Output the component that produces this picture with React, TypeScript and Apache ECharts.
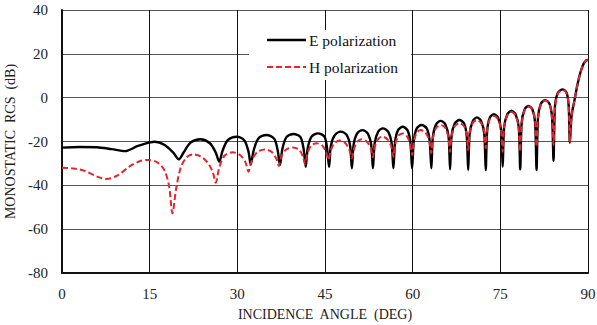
import React, { useEffect, useRef } from "react";
import * as echarts from "echarts";

const xTicks = [0, 15, 30, 45, 60, 75, 90];
const yTicks = [-80, -60, -40, -20, 0, 20, 40];

const ePolarization: [number, number][] = [
  [0, -22.8], [3, -22.5], [6, -22.6], [8.5, -23.5], [10.8, -24.4], [13, -22], [15.9, -20.1], [17.5, -21.5], [19, -25], [20.0, -28.1],
  [20.8, -25], [22, -20.5], [23.7, -19.0], [25.3, -20.8], [26.3, -25], [26.9, -29.2],
  [27.5, -24], [28.4, -19.3], [29.9, -17.8], [31.2, -19.5], [31.9, -24.5], [32.3, -30.4],
  [32.8, -24], [33.6, -18.6], [35.0, -17.0], [36.3, -18.7], [36.9, -24], [37.3, -30.7],
  [37.7, -23.5], [38.4, -18], [39.6, -16.6], [40.8, -18], [41.35, -23.5], [41.7, -31.5],
  [42.05, -23], [42.7, -17.8], [43.8, -16.3], [44.9, -17.8], [45.35, -23], [45.7, -31.5],
  [46.0, -22], [46.7, -17], [47.7, -15.5], [48.7, -17], [49.3, -22], [49.6, -32.2],
  [49.9, -21.5], [50.5, -16.3], [51.4, -14.8], [52.3, -16.3], [52.9, -21.5], [53.2, -32.2],
  [53.5, -20.8], [54.1, -15.5], [54.9, -14.0], [55.8, -15.5], [56.4, -20.8], [56.7, -32.2],
  [57.0, -20], [57.5, -14.8], [58.3, -13.3], [59.1, -14.8], [59.6, -20], [59.9, -32.2],
  [60.2, -19.5], [60.7, -14], [61.5, -12.5], [62.4, -14], [62.9, -19.5], [63.2, -32.2],
  [63.45, -18], [64.0, -12.2], [64.8, -10.6], [65.6, -12.2], [66.15, -18], [66.4, -32.7],
  [66.65, -17.5], [67.2, -11.8], [68.0, -10.2], [68.8, -11.8], [69.25, -17.5], [69.5, -33],
  [69.75, -16.5], [70.3, -10.6], [71.0, -9.0], [71.7, -10.6], [72.25, -16.5], [72.5, -33],
  [72.75, -15], [73.2, -9.1], [73.9, -7.5], [74.6, -9.1], [75.15, -15], [75.4, -31.5],
  [75.65, -13.5], [76.2, -7.6], [76.9, -6.0], [77.6, -7.6], [78.15, -13.5], [78.4, -32.7],
  [78.65, -11.5], [79.15, -5.4], [79.8, -3.8], [80.5, -5.4], [80.95, -11.5], [81.2, -33],
  [81.45, -9], [81.95, -2.7], [82.7, -1.1], [83.4, -2.7], [83.85, -9], [84.1, -28.8],
  [84.35, -4], [84.85, 2.2], [85.7, 3.8], [86.35, 2.2], [86.7, -4], [86.9, -20.5],
  [87.2, -8], [87.7, -1], [88.2, 6], [88.7, 11.5], [89.2, 15.2], [89.7, 17], [90, 17.2],
];

const hPolarization: [number, number][] = [
  [0, -32], [2, -32.3], [4, -33.5], [6, -36], [7.6, -37.1], [9.5, -35.5], [11.5, -31.5], [13.3, -29], [14.8, -28.4], [16.3, -29.5],
  [17.5, -33], [18.3, -40], [18.9, -52.8], [19.5, -42], [20.3, -32], [21.3, -27.3], [22.4, -25.9], [23.7, -26.8], [24.9, -29.5], [25.8, -34], [26.3, -38.8],
  [26.9, -32], [27.8, -26.5], [29.2, -24.9], [30.5, -26.3], [31.4, -29.5], [31.9, -33.8],
  [32.5, -28.5], [33.4, -24.8], [34.7, -23.6], [35.9, -24.8], [36.7, -28], [37.1, -31.2],
  [37.5, -27], [38.3, -23.8], [39.5, -22.7], [40.6, -23.8], [41.2, -26.8], [41.6, -30.3],
  [42.0, -25.5], [42.6, -22], [43.6, -20.8], [44.6, -22], [45.2, -25], [45.6, -28.4],
  [46.0, -24], [46.6, -20.8], [47.5, -19.6], [48.5, -20.8], [49.2, -24], [49.6, -27.7],
  [49.95, -23.5], [50.5, -20.2], [51.3, -19.0], [52.2, -20.2], [52.85, -23.2], [53.2, -27.2],
  [53.5, -22.5], [54.05, -19], [54.8, -17.8], [55.7, -19], [56.35, -22.3], [56.7, -27],
  [57.0, -21.5], [57.5, -17.5], [58.2, -16.3], [59.0, -17.5], [59.55, -21], [59.9, -26.2],
  [60.2, -20], [60.7, -16], [61.4, -14.8], [62.2, -16], [62.85, -19.5], [63.2, -25.4],
  [63.45, -18.5], [64.0, -13.8], [64.8, -12.5], [65.6, -13.8], [66.1, -18], [66.4, -24.7],
  [66.65, -17.5], [67.2, -13], [68.0, -11.7], [68.8, -13], [69.25, -17], [69.5, -23.9],
  [69.75, -16], [70.3, -11.5], [71.0, -10.2], [71.7, -11.5], [72.25, -15.5], [72.5, -23.1],
  [72.75, -14.5], [73.2, -9.8], [73.9, -8.4], [74.6, -9.8], [75.1, -14.5], [75.4, -24.7],
  [75.65, -13.5], [76.2, -8], [76.9, -6.5], [77.6, -8], [78.1, -13], [78.4, -24.7],
  [78.65, -11.5], [79.15, -5.6], [79.8, -4.0], [80.5, -5.6], [80.95, -11], [81.2, -22.4],
  [81.45, -9], [81.95, -2.9], [82.7, -1.3], [83.4, -2.9], [83.85, -9], [84.1, -21.6],
  [84.35, -4.5], [84.85, 1.9], [85.7, 3.5], [86.35, 1.9], [86.7, -4], [86.9, -20.5],
  [87.2, -8], [87.7, -1], [88.2, 6], [88.7, 11.5], [89.2, 15.2], [89.7, 17], [90, 17.2],
];

const seriesNames = ["E polarization", "H polarization"];
const xTitle = "INCIDENCE  ANGLE  (DEG)";
const yTitle = "MONOSTATIC  RCS  (dB)";

const FONT = "'Liberation Serif', 'DejaVu Serif', serif";
const RED = "#e8232b";

export default function App() {
  const ref = useRef<HTMLDivElement>(null);
  useEffect(() => {
    document.body.style.margin = "0";
    if (!ref.current) return;
    const chart = echarts.init(ref.current, undefined, { renderer: "svg" });
    chart.setOption({
      animation: false,
      backgroundColor: "#ffffff",
      grid: { left: 62, right: 9, top: 10, bottom: 52, containLabel: false, outerBoundsMode: "none" },
      xAxis: {
        type: "value",
        min: xTicks[0],
        max: xTicks[xTicks.length - 1],
        interval: 15,
        name: xTitle,
        nameLocation: "middle",
        nameGap: 34,
        nameTextStyle: { fontFamily: FONT, fontSize: 14, color: "#222" },
        axisLine: { show: true, onZero: false, lineStyle: { color: "#111", width: 2 } },
        axisTick: { show: false },
        axisLabel: { margin: 13, fontFamily: FONT, fontSize: 15, color: "#222" },
        splitLine: { show: true, lineStyle: { color: "#111", width: 1 } },
      },
      yAxis: {
        type: "value",
        min: yTicks[0],
        max: yTicks[yTicks.length - 1],
        interval: 20,
        name: yTitle,
        nameLocation: "middle",
        nameGap: 40,
        nameRotate: 90,
        nameTextStyle: { fontFamily: FONT, fontSize: 14, color: "#222" },
        axisLine: { show: true, onZero: false, lineStyle: { color: "#111", width: 2 } },
        axisTick: { show: false },
        axisLabel: { margin: 14, fontFamily: FONT, fontSize: 15, color: "#222" },
        splitLine: { show: true, lineStyle: { color: "#555", width: 1 } },
      },
      graphic: [
        { type: "rect", z: 1, shape: { x: 249, y: 30, width: 162, height: 50 }, style: { fill: "#fff" } },
        { type: "line", z: 3, shape: { x1: 267, y1: 40, x2: 306, y2: 40 }, style: { stroke: "#000", lineWidth: 2.5 } },
        { type: "text", z: 3, x: 309, y: 40, style: { text: seriesNames[0], fontFamily: FONT, fontSize: 15.5, fill: "#111", verticalAlign: "middle" } },
        { type: "line", z: 3, shape: { x1: 267, y1: 67, x2: 306, y2: 67 }, style: { stroke: RED, lineWidth: 2, lineDash: [6, 3] } },
        { type: "text", z: 3, x: 309, y: 67, style: { text: seriesNames[1], fontFamily: FONT, fontSize: 15.5, fill: "#111", verticalAlign: "middle" } },
      ],
      series: [
        {
          name: seriesNames[0],
          type: "line",
          data: ePolarization,
          showSymbol: false,
          smooth: 0.3,
          z: 3,
          lineStyle: { color: "#000", width: 2.4 },
        },
        {
          name: seriesNames[1],
          type: "line",
          data: hPolarization,
          showSymbol: false,
          smooth: 0.3,
          z: 4,
          lineStyle: { color: RED, width: 2, type: [6, 3] },
        },
      ],
    });
    return () => chart.dispose();
  }, []);
  return <div ref={ref} style={{ width: 597, height: 325 }} />;
}
